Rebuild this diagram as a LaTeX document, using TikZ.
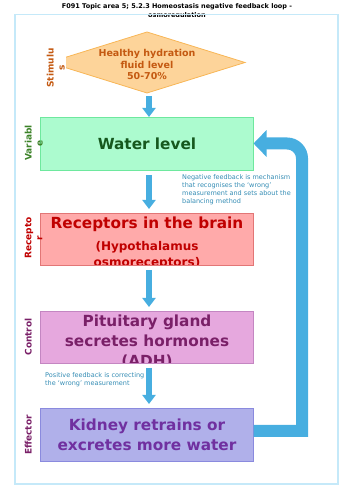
\documentclass[tikz,border=0pt]{standalone}
\usepackage{fontspec}
\setmainfont{DejaVu Sans}
\usetikzlibrary{shapes.geometric, positioning, arrows.meta, calc}

\definecolor{framecol}{RGB}{197,233,249}
\definecolor{arrowcol}{RGB}{71,174,224}
\definecolor{notecol}{RGB}{52,140,180}
\definecolor{stimfill}{RGB}{253,212,154}
\definecolor{stimdraw}{RGB}{248,182,86}
\definecolor{stimtext}{RGB}{196,89,17}
\definecolor{varfill}{RGB}{172,251,207}
\definecolor{vardraw}{RGB}{110,232,158}
\definecolor{vartext}{RGB}{22,88,30}
\definecolor{varlabel}{RGB}{60,130,40}
\definecolor{recfill}{RGB}{255,170,170}
\definecolor{recdraw}{RGB}{226,118,118}
\definecolor{rectext}{RGB}{192,0,0}
\definecolor{ctrlfill}{RGB}{230,168,222}
\definecolor{ctrldraw}{RGB}{196,134,194}
\definecolor{ctrltext}{RGB}{122,32,104}
\definecolor{efffill}{RGB}{176,176,234}
\definecolor{effdraw}{RGB}{138,138,222}
\definecolor{efftext}{RGB}{112,48,160}

\begin{document}
\begin{tikzpicture}[
    x=1pt, y=1pt,
    node distance=45pt,
    box/.style={rectangle, draw, line width=0.8pt, minimum width=213pt, minimum height=52pt, inner sep=0pt, outer sep=0pt},
    boxtext/.style={font=\bfseries\fontsize{15.3}{20}\selectfont, align=center, inner sep=0pt},
    side/.style={font=\bfseries\fontsize{9}{11}\selectfont, align=center, rotate=90, anchor=north, inner sep=1pt},
    note/.style={font=\fontsize{6.5}{8}\selectfont, text=notecol, align=left, anchor=north west, inner sep=0pt},
    arrow/.style={draw=arrowcol, line width=6pt, -{Triangle[length=9pt, width=13pt]}, shorten <=5pt, shorten >=4pt},
    loop_arrow/.style={draw=arrowcol, line width=12pt, -{Triangle[length=13pt, width=26pt]}},
]
\useasboundingbox (0,0) rectangle (353,500);

%% TITLE AND FRAME
\begin{scope}
    \clip (0,483) rectangle (353,500);
    \node[font=\bfseries\fontsize{6.5}{9}\selectfont, align=center, anchor=north, inner sep=0pt] (title) at (177,496.5) {F091 Topic area 5; 5.2.3 Homeostasis negative feedback loop -\\osmoregulation};
\end{scope}
\draw[framecol, line width=1.2pt] (15,16) rectangle (338,485.5);

%% NODES
    % stimulus
    \node[diamond, draw=stimdraw, fill=stimfill, line width=0.8pt, minimum width=196pt, minimum height=61pt, inner sep=0pt, outer sep=0pt] (stim) at (147,437.5) {};
    \node[font=\bfseries\fontsize{9.5}{11.5}\selectfont, text=stimtext, align=center, yshift=-2pt] (stim_text) at (stim.center) {Healthy hydration\\fluid level\\50-70\%};

    % loop boxes
    \node[box, boxtext, draw=vardraw, fill=varfill, text=vartext, minimum height=53pt, below=24pt of stim] (water) {Water level};
    \node[box, draw=recdraw, fill=recfill, below=43pt of water] (rec) {};
    \node[box, draw=ctrldraw, fill=ctrlfill, below=46pt of rec] (ctrl) {};
    \node[box, boxtext, draw=effdraw, fill=efffill, text=efftext, minimum height=53pt, below=45pt of ctrl] (eff) {Kidney retrains or\\excretes more water};

    \begin{scope}
        \clip (rec.south west) rectangle (rec.north east);
        \node[boxtext, text=rectext, anchor=north] (rec_text) at ([yshift=-3.5pt]rec.north) {Receptors in the brain\\[2pt]\fontsize{12}{15.6}\selectfont (Hypothalamus\\[-4pt]\fontsize{12}{15.6}\selectfont osmoreceptors)};
    \end{scope}
    \begin{scope}
        \clip (ctrl.south west) rectangle (ctrl.north east);
        \node[boxtext, text=ctrltext, anchor=north] (ctrl_text) at ([yshift=-4pt]ctrl.north) {Pituitary gland\\secretes hormones\\(ADH)};
    \end{scope}

    % side labels
    \node[side, text=stimtext, fill=white] (stim_label) at (45.5,432) {Stimulu\\s};
    \node[side, text=varlabel] (water_label) at (23.5,357) {Variabl\\e};
    \node[side, text=rectext] (rec_label) at (23.5,262) {Recepto\\r};
    \node[side, text=ctrltext] (ctrl_label) at (23.5,163) {Control};
    \node[side, text=ctrltext] (eff_label) at (23.5,65) {Effector};

    % notes
    \node[note] (neg_note) at (182,325.5) {Negative feedback is mechanism\\that recognises the ‘wrong’\\measurement and sets about the\\balancing method};
    \node[note] (pos_note) at (45,127.5) {Positive feedback is correcting\\the ‘wrong’ measurement};

%% ARROWS
    \draw[arrow, shorten <=3pt, shorten >=0pt] ([xshift=2pt]stim.south) -- ([xshift=2pt]water.north);
    \draw[arrow] ([xshift=2pt]water.south) -- ([xshift=2pt]rec.north);
    \draw[arrow] ([xshift=2pt]rec.south) -- ([xshift=2pt]ctrl.north);
    \draw[arrow] ([xshift=2pt]ctrl.south) -- ([xshift=2pt]eff.north);

    \draw[loop_arrow] ([yshift=3.5pt]eff.east) -| (302,341.5) arc[start angle=0, end angle=90, radius=15pt] -- (water.east);

\end{tikzpicture}
\end{document}
